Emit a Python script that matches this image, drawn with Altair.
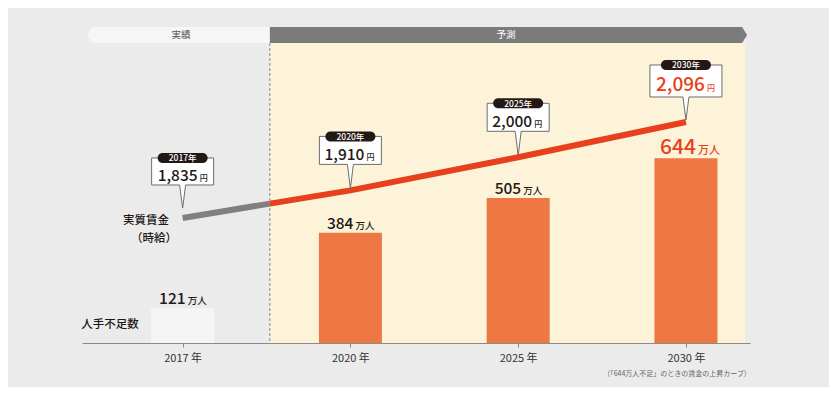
import altair as alt
import pandas as pd

# ---------------- data ----------------
years = ["2017", "2020", "2025", "2030"]
year_labels = ["2017 年", "2020 年", "2025 年", "2030 年"]
pill_labels = ["2017年", "2020年", "2025年", "2030年"]
shortage = [121, 384, 505, 644]          # 人手不足数 (万人)
wage = [1835, 1910, 2000, 2096]          # 実質賃金 (時給, 円)
pos = [0, 1, 2, 3]
phase_labels = ["実績", "予測"]
footnote = "（「644万人不足」のときの賃金の上昇カーブ）"

# ---------------- layout / style ----------------
W, H = 668, 335
X_DOM = [-0.570, 3.352]
BAR_DOM = [0, 1167]
WAGE_DOM = [1495, 2406]
SPLIT = 0.52
PPU = W / (X_DOM[1] - X_DOM[0])
FONT = "Noto Sans CJK JP"
DARK = "#231815"
RED = "#e8401c"
ORANGE = "#ee7743"
BG = "#ebebeb"

xs = alt.Scale(domain=X_DOM, nice=False, zero=False)
ybar = alt.Scale(domain=BAR_DOM, nice=False, zero=False)
ywage = alt.Scale(domain=WAGE_DOM, nice=False, zero=False)

df = pd.DataFrame({"pos": pos, "year": years, "pill": pill_labels,
                   "shortage": shortage, "wage": wage})
df["bar_color"] = ["#f5f5f5", ORANGE, ORANGE, ORANGE]

X = alt.X("pos:Q", scale=xs, axis=None)
YW = alt.Y("wage:Q", scale=ywage, axis=None)
YB = alt.Y("shortage:Q", scale=ybar, axis=None)

# background regions
region = pd.DataFrame({"x0": [SPLIT], "x1": [X_DOM[1]]})
shade = alt.Chart(region).mark_rect(color="#fcf3d8").encode(
    x=alt.X("x0:Q", scale=xs, axis=None), x2="x1:Q",
    y=alt.value(35), y2=alt.value(H))
divider = alt.Chart(region).mark_rule(color="#8a8a8a", strokeDash=[3, 2], strokeWidth=1).encode(
    x=alt.X("x0:Q", scale=xs, axis=None), y=alt.value(35), y2=alt.value(H))

bands = pd.DataFrame({
    "label": phase_labels,
    "x0": [X_DOM[0] + 5 / PPU, SPLIT],
    "x1": [SPLIT, X_DOM[1] - 3 / PPU],
    "fill": ["#f6f6f6", "#7b7b7b"],
    "tcolor": ["#555555", "#ffffff"],
})
bands["mid"] = (bands["x0"] + bands["x1"]) / 2
band_rects = alt.Chart(bands).mark_rect().encode(
    x=alt.X("x0:Q", scale=xs, axis=None), x2="x1:Q",
    y=alt.value(19), y2=alt.value(35),
    color=alt.Color("fill:N", scale=None))
band_text = alt.Chart(bands).mark_text(font=FONT, fontSize=9.5, baseline="middle").encode(
    x=alt.X("mid:Q", scale=xs, axis=None), y=alt.value(27),
    text="label:N", color=alt.Color("tcolor:N", scale=None))
arrow_l = alt.Chart(bands.iloc[[0]]).mark_point(
    shape="M0,-8 L-5,0 L0,8 Z", size=4, filled=True, fill="#f6f6f6",
    strokeWidth=0, opacity=1).encode(x=alt.X("x0:Q", scale=xs, axis=None), y=alt.value(27))
arrow_r = alt.Chart(bands.iloc[[1]]).mark_point(
    shape="M0,-8 L5,0 L0,8 Z", size=4, filled=True, fill="#7b7b7b",
    strokeWidth=0, opacity=1).encode(x=alt.X("x1:Q", scale=xs, axis=None), y=alt.value(27))

# bars with the x axis
bars = alt.Chart(df).mark_bar(size=63).encode(
    x=alt.X("pos:Q", scale=xs, title=None,
            axis=alt.Axis(values=pos, grid=False, domainColor="#8a8a8a", tickColor="#8a8a8a",
                          tickSize=4, labelFont=FONT, labelFontSize=11, labelColor="#333333",
                          labelPadding=5, labelExpr="%s[datum.value]" % str(year_labels))),
    y=YB, color=alt.Color("bar_color:N", scale=None))


def bar_labels(rows, size, color, ndx, udx, usize):
    sub = df.iloc[rows]
    num = alt.Chart(sub).mark_text(font=FONT, fontSize=size, fontWeight=500, color=color,
                                   align="right", baseline="alphabetic", dx=ndx, dy=-4).encode(
        x=X, y=YB, text=alt.Text("shortage:Q", format="d"))
    unit = alt.Chart(sub).mark_text(font=FONT, fontSize=usize, fontWeight=500, color=color,
                                    align="left", baseline="alphabetic", dx=udx, dy=-4).encode(
        x=X, y=YB, text=alt.value("万人"))
    return [num, unit]


# wage line: 実績 (gray) until the split, 予測 (red) after
w_split = wage[0] + (wage[1] - wage[0]) * SPLIT
gray_seg = pd.DataFrame({"pos": [0, SPLIT], "wage": [wage[0], w_split]})
red_seg = pd.DataFrame({"pos": [SPLIT] + pos[1:], "wage": [w_split] + wage[1:]})
gray_line = alt.Chart(gray_seg).mark_line(color="#808080", strokeWidth=6, strokeCap="butt").encode(x=X, y=YW)
red_line = alt.Chart(red_seg).mark_line(color=RED, strokeWidth=6, strokeCap="butt").encode(x=X, y=YW)


def callout(rows, tip, bottom, top, hw, size, color, ndx, udx, base):
    sub = df.iloc[rows]
    box = (f"M0,{tip} L-3,{bottom} L{-hw},{bottom} L{-hw},{top} L{hw},{top} "
           f"L{hw},{bottom} L3,{bottom} Z")
    pill = (f"M-20,{top - 5} L20,{top - 5} A5,5 0 0 1 20,{top + 5} L-20,{top + 5} "
            f"A5,5 0 0 1 -20,{top - 5} Z")
    return [
        alt.Chart(sub).mark_point(shape=box, size=4, filled=True, fill="white", stroke="#6d6d6d",
                                  strokeWidth=1, opacity=1).encode(x=X, y=YW),
        alt.Chart(sub).mark_point(shape=pill, size=4, filled=True, fill=DARK, strokeWidth=0,
                                  opacity=1).encode(x=X, y=YW),
        alt.Chart(sub).mark_text(font=FONT, fontSize=8.5, fontWeight=500, color="white",
                                 baseline="middle", dy=top + 0.5).encode(x=X, y=YW, text="pill:N"),
        alt.Chart(sub).mark_text(font=FONT, fontSize=size, fontWeight=500, color=color,
                                 align="right", baseline="alphabetic", dx=ndx, dy=base).encode(
            x=X, y=YW, text=alt.Text("wage:Q", format=",")),
        alt.Chart(sub).mark_text(font=FONT, fontSize=8, fontWeight=500, color=color,
                                 align="left", baseline="alphabetic", dx=udx, dy=base).encode(
            x=X, y=YW, text=alt.value("円")),
    ]


labels = pd.DataFrame({"t": ["実質賃金", "（時給）", "人手不足数"],
                       "x": [64, 72, 28], "y": [213, 231, 317]})
side_text = alt.Chart(labels).mark_text(font=FONT, fontSize=11.5, fontWeight=500, color=DARK,
                                        baseline="middle").encode(
    x=alt.X("x:Q", scale=None, axis=None), y=alt.Y("y:Q", scale=None, axis=None), text="t:N")

note = alt.Chart(pd.DataFrame({"t": [footnote]})).mark_text(
    font=FONT, fontSize=7, color="#666666", baseline="middle").encode(
    x=alt.value(595), y=alt.value(366), text="t:N")

layers = [shade, divider, band_rects, arrow_l, arrow_r, band_text, bars]
layers += bar_labels([0, 1, 2], 15.5, DARK, 3, 5, 9.5)
layers += bar_labels([3], 21, RED, 10, 12, 11)
layers += [gray_line, red_line]
layers += callout([0], -10, -33, -60, 31, 15.5, DARK, 15, 17, -37)
layers += callout([1, 2], -2, -26, -54, 31, 15.5, DARK, 14, 16, -30)
layers += callout([3], -2, -25, -57, 36, 19, RED, 19, 21, -31)
layers += [side_text, note]

chart = alt.layer(*layers).resolve_scale(y="independent").resolve_axis(x="independent").properties(
    width=W, height=H,
    autosize=alt.AutoSizeParams(type="none"),
    padding={"left": 74, "top": 0, "right": 79, "bottom": 44},
    background=BG,
).configure_view(stroke=None)

chart.save("out.html", embed_options={"renderer": "svg", "actions": False})
